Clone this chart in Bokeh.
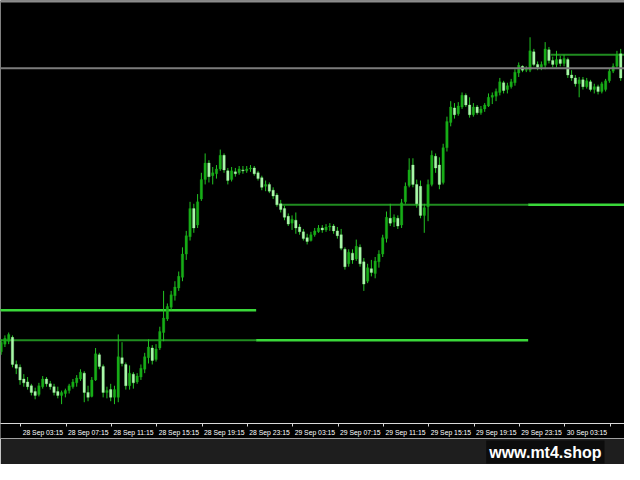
from bokeh.plotting import figure
from bokeh.models import Range1d, LinearAxis, FixedTicker, Span, Title, ColumnDataSource
from bokeh.embed import file_html
from bokeh.resources import INLINE

# ---------------- data (x in minutes since 28 Sep 00:00, prices in points) ----------------
BAR_START_MIN = 90
BAR_STEP_MIN = 20

OPEN = [137, 145, 148, 152, 124, 121, 109, 106, 102, 96,
        93, 101, 109, 104, 101, 96, 92, 94, 97, 101,
        105, 109, 115, 95, 91, 108, 134, 122, 95, 98,
        90, 90, 131, 124, 102, 114, 106, 111, 119, 131,
        141, 129, 141, 157, 171, 183, 195, 203, 214, 238,
        256, 285, 268, 295, 315, 332, 319, 321, 326, 340,
        324, 315, 323, 322, 325, 324, 326, 327, 322, 317,
        308, 310, 304, 299, 290, 285, 277, 270, 273, 266,
        261, 255, 252, 258, 261, 265, 263, 266, 267, 262,
        258, 243, 228, 239, 233, 245, 230, 210, 223, 218,
        230, 238, 254, 275, 271, 275, 268, 292, 309, 330,
        310, 308, 278, 287, 310, 339, 330, 312, 348, 374,
        389, 383, 390, 402, 392, 382, 390, 384, 388, 391,
        400, 401, 405, 415, 408, 411, 415, 425, 432, 428,
        428, 447, 434, 431, 433, 449, 438, 434, 439, 435,
        439, 423, 420, 414, 418, 411, 416, 408, 411, 406,
        408, 417, 427, 432, 445]

HIGH = [150, 154, 157, 154, 128, 124, 114, 111, 104, 100,
        105, 112, 111, 107, 104, 101, 97, 99, 104, 109,
        113, 119, 117, 102, 111, 141, 136, 124, 101, 104,
        102, 155, 147, 126, 123, 116, 115, 124, 136, 150,
        144, 145, 163, 200, 187, 200, 210, 220, 245, 262,
        292, 290, 300, 322, 342, 335, 328, 330, 346, 342,
        327, 328, 327, 329, 329, 329, 330, 329, 324, 319,
        314, 312, 307, 301, 294, 288, 280, 278, 281, 269,
        264, 259, 261, 265, 268, 268, 269, 270, 269, 266,
        264, 245, 243, 243, 253, 248, 234, 228, 232, 235,
        242, 258, 282, 290, 279, 278, 295, 312, 337, 337,
        315, 314, 290, 315, 345, 342, 338, 352, 380, 396,
        394, 395, 405, 404, 400, 394, 392, 391, 394, 404,
        405, 409, 420, 417, 415, 419, 429, 436, 433, 432,
        462, 450, 437, 437, 457, 452, 442, 448, 443, 444,
        441, 428, 423, 421, 421, 420, 418, 414, 413, 416,
        419, 430, 435, 448, 450]

LOW = [134, 142, 145, 121, 114, 103, 101, 98, 92, 88,
       91, 99, 101, 98, 92, 89, 83, 90, 94, 99,
       101, 107, 85, 86, 90, 107, 119, 90, 89, 86,
       83, 85, 122, 98, 98, 99, 104, 108, 115, 125,
       124, 127, 139, 148, 169, 180, 190, 200, 210, 232,
       252, 260, 265, 293, 310, 312, 310, 316, 324, 322,
       310, 313, 318, 320, 321, 322, 323, 319, 314, 304,
       303, 301, 295, 287, 281, 273, 267, 263, 259, 258,
       252, 248, 251, 256, 260, 260, 261, 262, 259, 254,
       242, 222, 225, 228, 231, 225, 200, 208, 215, 213,
       224, 235, 250, 267, 266, 264, 265, 290, 307, 307,
       286, 275, 260, 272, 308, 322, 305, 310, 344, 370,
       378, 381, 388, 390, 379, 380, 382, 382, 385, 390,
       393, 396, 402, 404, 404, 409, 412, 421, 426, 426,
       426, 432, 428, 428, 429, 435, 431, 431, 432, 432,
       420, 417, 411, 400, 408, 409, 406, 404, 403, 404,
       406, 415, 425, 430, 417]

CLOSE = [147, 151, 155, 124, 120, 108, 105, 101, 95, 92,
         102, 109, 104, 101, 95, 92, 95, 97, 102, 106,
         110, 116, 95, 90, 108, 135, 122, 95, 97, 90,
         98, 132, 125, 102, 115, 105, 112, 120, 132, 142,
         128, 140, 158, 172, 184, 196, 204, 215, 238, 257,
         285, 265, 292, 315, 332, 318, 322, 326, 340, 325,
         314, 324, 321, 326, 324, 326, 327, 321, 316, 307,
         310, 303, 298, 289, 284, 276, 269, 274, 265, 261,
         254, 251, 258, 262, 265, 263, 266, 267, 262, 257,
         244, 225, 240, 232, 246, 228, 207, 224, 219, 231,
         238, 255, 276, 270, 276, 267, 291, 308, 325, 310,
         290, 278, 286, 310, 340, 327, 310, 348, 375, 390,
         382, 391, 402, 392, 382, 390, 384, 388, 392, 400,
         402, 406, 416, 407, 412, 416, 426, 433, 428, 429,
         448, 434, 431, 434, 450, 438, 434, 439, 435, 440,
         423, 420, 414, 418, 411, 417, 408, 411, 406, 414,
         417, 427, 432, 444, 420]

TICK_MINUTES = [195, 435, 675, 915, 1155, 1395, 1635, 1875,
                2115, 2355, 2595, 2835, 3075, 3315]
TICK_LABELS = ["28 Sep 03:15", "28 Sep 07:15", "28 Sep 11:15", "28 Sep 15:15",
               "28 Sep 19:15", "28 Sep 23:15", "29 Sep 03:15", "29 Sep 07:15",
               "29 Sep 11:15", "29 Sep 15:15", "29 Sep 19:15", "29 Sep 23:15",
               "30 Sep 03:15", "30 Sep 07:15"]

# daily level lines
LEVEL_START = [0, 0, 1440, 1560, 2880, 3000]
LEVEL_END = [1440, 1440, 2880, 2880, 3420, 3420]
LEVEL_PRICE = [180, 149, 149, 289, 289, 444]
LEVEL_KIND = ["prior", "current", "prior", "current", "prior", "current"]
GRAY_LEVEL = 430

WATERMARK = "www.mt4.shop"

# ---------------- styles ----------------
X_START, X_END = 86.6, 3390
Y_LOW, Y_HIGH = 63, 500
BODY_WIDTH_MIN = 13
LABEL_OFFSET_MIN = 116
BULL = "#17ad17"
BEAR = "#a8f8a8"
WICK = "#22c422"
LEVEL_COLOR = {"prior": "#3ad83a", "current": "#208c20"}
LEVEL_WIDTH = {"prior": 2.5, "current": 2}

t = [BAR_START_MIN + i * BAR_STEP_MIN for i in range(len(CLOSE))]
src = ColumnDataSource(dict(
    t=t, o=OPEN, h=HIGH, l=LOW, c=CLOSE,
    top=[max(a, b) for a, b in zip(OPEN, CLOSE)],
    bottom=[min(a, b) for a, b in zip(OPEN, CLOSE)],
    fill=[BULL if c >= o else BEAR for o, c in zip(OPEN, CLOSE)],
))
lvl = ColumnDataSource(dict(
    x0=LEVEL_START, x1=LEVEL_END, y=LEVEL_PRICE,
    color=[LEVEL_COLOR[k] for k in LEVEL_KIND],
    width=[LEVEL_WIDTH[k] for k in LEVEL_KIND],
))

p = figure(width=624, height=464, output_backend="svg", toolbar_location=None,
           x_range=Range1d(X_START, X_END), y_range=Range1d(Y_LOW, Y_HIGH),
           x_axis_location=None, y_axis_location=None,
           min_border_left=0, min_border_right=0, min_border_top=0, min_border_bottom=41,
           background_fill_color="black", border_fill_color="#1e1e1e",
           outline_line_color=None)
p.xgrid.grid_line_color = None
p.ygrid.grid_line_color = None

p.add_layout(Span(location=Y_HIGH, dimension="width", line_color="#8c8c8c", line_width=4))
p.add_layout(Span(location=GRAY_LEVEL, dimension="width", line_color="#7c7c7c", line_width=2))

p.segment(x0="x0", y0="y", x1="x1", y1="y", line_color="color", line_width="width", source=lvl)

p.segment(x0="t", y0="l", x1="t", y1="h", line_color=WICK, line_width=1, source=src)
p.vbar(x="t", width=BODY_WIDTH_MIN, top="top", bottom="bottom",
       fill_color="fill", line_color="fill", line_width=0.3, source=src)

# time axis: tick marks (minor ticks) at the times, labels to the right of each tick like MT4
label_pos = [m + LABEL_OFFSET_MIN for m in TICK_MINUTES]
time_axis = LinearAxis(ticker=FixedTicker(ticks=label_pos, minor_ticks=TICK_MINUTES),
                       axis_line_color="#d8d8d8", axis_line_width=1,
                       major_tick_line_color=None, major_tick_in=0, major_tick_out=0,
                       minor_tick_line_color="#d8d8d8", minor_tick_in=0, minor_tick_out=3,
                       major_label_overrides={pos: lab for pos, lab in zip(label_pos, TICK_LABELS)},
                       major_label_text_font="Liberation Sans",
                       major_label_text_font_size="6.8px",
                       major_label_text_color="white",
                       major_label_standoff=2,
                       background_fill_color="black")
edge_axis = LinearAxis(ticker=FixedTicker(ticks=[]),
                       axis_line_color="#a0a0a0", axis_line_width=1,
                       major_tick_line_color=None, minor_tick_line_color=None,
                       major_label_standoff=0)
p.add_layout(time_axis, "below")
p.add_layout(edge_axis, "below")

p.add_layout(Title(text=WATERMARK, align="right", offset=20, standoff=0,
                   text_color="white", text_font="Liberation Sans", text_font_style="bold",
                   text_font_size="16px",
                   background_fill_color="black", background_fill_alpha=0.6,
                   padding=3), "below")

open("out.html", "w").write(file_html(p, INLINE))
